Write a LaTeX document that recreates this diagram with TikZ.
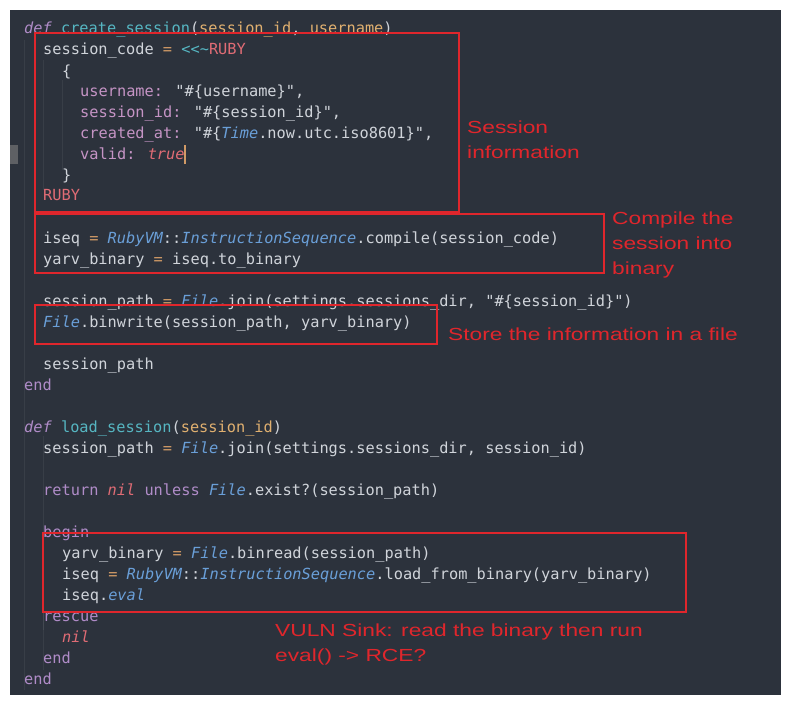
\documentclass[tikz,border=0pt]{standalone}
\usepackage{fontspec}
\usepackage{xcolor}
\newfontfamily\codefont{DejaVu Sans Mono}
\newfontfamily\notefont[FakeStretch=1.3]{Liberation Sans}
\definecolor{bgdark}{HTML}{2C323C}
\definecolor{plain}{HTML}{D0D4DA}
\definecolor{kwcol}{HTML}{B08CC8}
\definecolor{fncol}{HTML}{56B6C2}
\definecolor{parcol}{HTML}{E0B070}
\definecolor{clscol}{HTML}{6A9FD8}
\definecolor{symcol}{HTML}{C594C5}
\definecolor{constcol}{HTML}{E06C75}
\definecolor{opcol}{HTML}{D19A66}
\definecolor{markred}{HTML}{E0262C}
\newcommand{\cK}[1]{{\color{kwcol}#1}}
\newcommand{\cF}[1]{{\color{fncol}#1}}
\newcommand{\cP}[1]{{\color{parcol}#1}}
\newcommand{\cC}[1]{{\color{clscol}\itshape #1}}
\newcommand{\cS}[1]{{\color{symcol}#1}}
\newcommand{\cR}[1]{{\color{constcol}#1}}
\newcommand{\cO}[1]{{\color{opcol}#1}}
\begin{document}
\begin{tikzpicture}[x=1pt,y=-1pt,
	codeline/.style={anchor=base west, inner sep=0pt, text=plain, font=\codefont\fontsize{15.3}{21}\selectfont},
	notetext/.style={anchor=base west, inner sep=0pt, text=markred, align=left, font=\notefont\fontsize{17.5}{25}\selectfont},
	markbox/.style={draw=markred, line width=2pt}]
		\fill[white] (0,0) rectangle (790,705);
		\fill[bgdark] (10,10) rectangle (781,695);
		\fill[gray!60!bgdark] (10,145) rectangle (18,164);
		% indent guides
		\foreach \gx/\ya/\yb in {24/40/690, 43/60/190, 62/80/170, 43/436/670, 43/540/630} {
			\draw[white, opacity=0.06] (\gx,\ya) -- (\gx,\yb);
		}
		% create_session
		\node[codeline] (l1) at (24,33) {\cK{\itshape def} \cF{create\_session}(\cP{session\_id}, \cP{username})};
		\node[codeline] (l2) at (43,54) {session\_code \cO{=} \cF{<<\textasciitilde}\cR{RUBY}};
		\node[codeline] (l3) at (62,76) {\{};
		\node[codeline] (l4) at (80,96) {\cS{username:} "\#\{username\}",};
		\node[codeline] (l5) at (80,117) {\cS{session\_id:} "\#\{session\_id\}",};
		\node[codeline] (l6) at (80,138) {\cS{created\_at:} "\#\{\cC{Time}.now.utc.iso8601\}",};
		\node[codeline] (l7) at (80,159) {\cS{valid:} \cR{\itshape true}};
		\draw[opcol, line width=1.5pt] (185,145) -- (185,164);
		\node[codeline] (l8) at (62,180) {\}};
		\node[codeline] (l9) at (43,200) {\cR{RUBY}};
		\node[codeline] (l11) at (43,243) {iseq \cO{=} \cC{RubyVM}::\cC{InstructionSequence}.compile(session\_code)};
		\node[codeline] (l12) at (43,264) {yarv\_binary \cO{=} iseq.to\_binary};
		\node[codeline] (l14) at (43,306) {session\_path \cO{=} \cC{File}.join(settings.sessions\_dir, "\#\{session\_id\}")};
		\node[codeline] (l15) at (43,327) {\cC{File}.binwrite(session\_path, yarv\_binary)};
		\node[codeline] (l17) at (43,369) {session\_path};
		\node[codeline] (l18) at (24,390) {\cK{end}};
		% load_session
		\node[codeline] (l20) at (24,432) {\cK{\itshape def} \cF{load\_session}(\cP{session\_id})};
		\node[codeline] (l21) at (43,453) {session\_path \cO{=} \cC{File}.join(settings.sessions\_dir, session\_id)};
		\node[codeline] (l23) at (43,495) {\cK{return} \cR{\itshape nil} \cK{unless} \cC{File}.exist?(session\_path)};
		\node[codeline] (l25) at (43,537) {\cK{begin}};
		\node[codeline] (l26) at (62,558) {yarv\_binary \cO{=} \cC{File}.binread(session\_path)};
		\node[codeline] (l27) at (62,579) {iseq \cO{=} \cC{RubyVM}::\cC{InstructionSequence}.load\_from\_binary(yarv\_binary)};
		\node[codeline] (l28) at (62,600) {iseq.\cC{eval}};
		\node[codeline] (l29) at (43,621) {\cK{rescue}};
		\node[codeline] (l30) at (62,642) {\cR{\itshape nil}};
		\node[codeline] (l31) at (43,663) {\cK{end}};
		\node[codeline] (l32) at (24,684) {\cK{end}};
		% red boxes
		\draw[markbox] (35,33) rectangle (459,212);
		\draw[markbox] (35,214) rectangle (604,273);
		\draw[markbox] (35,305) rectangle (437,344);
		\draw[markbox] (43,533) rectangle (686,612);
		% notes
		\node[notetext] (n1) at (467,158) {Session\\information};
		\node[notetext] (n2) at (612,274) {Compile the\\session into\\binary};
		\node[notetext] (n3) at (448,340) {Store the information in a file};
		\node[notetext] (n4) at (275,661) {VULN Sink: read the binary then run\\eval() -> RCE?};
	\end{tikzpicture}
\end{document}
